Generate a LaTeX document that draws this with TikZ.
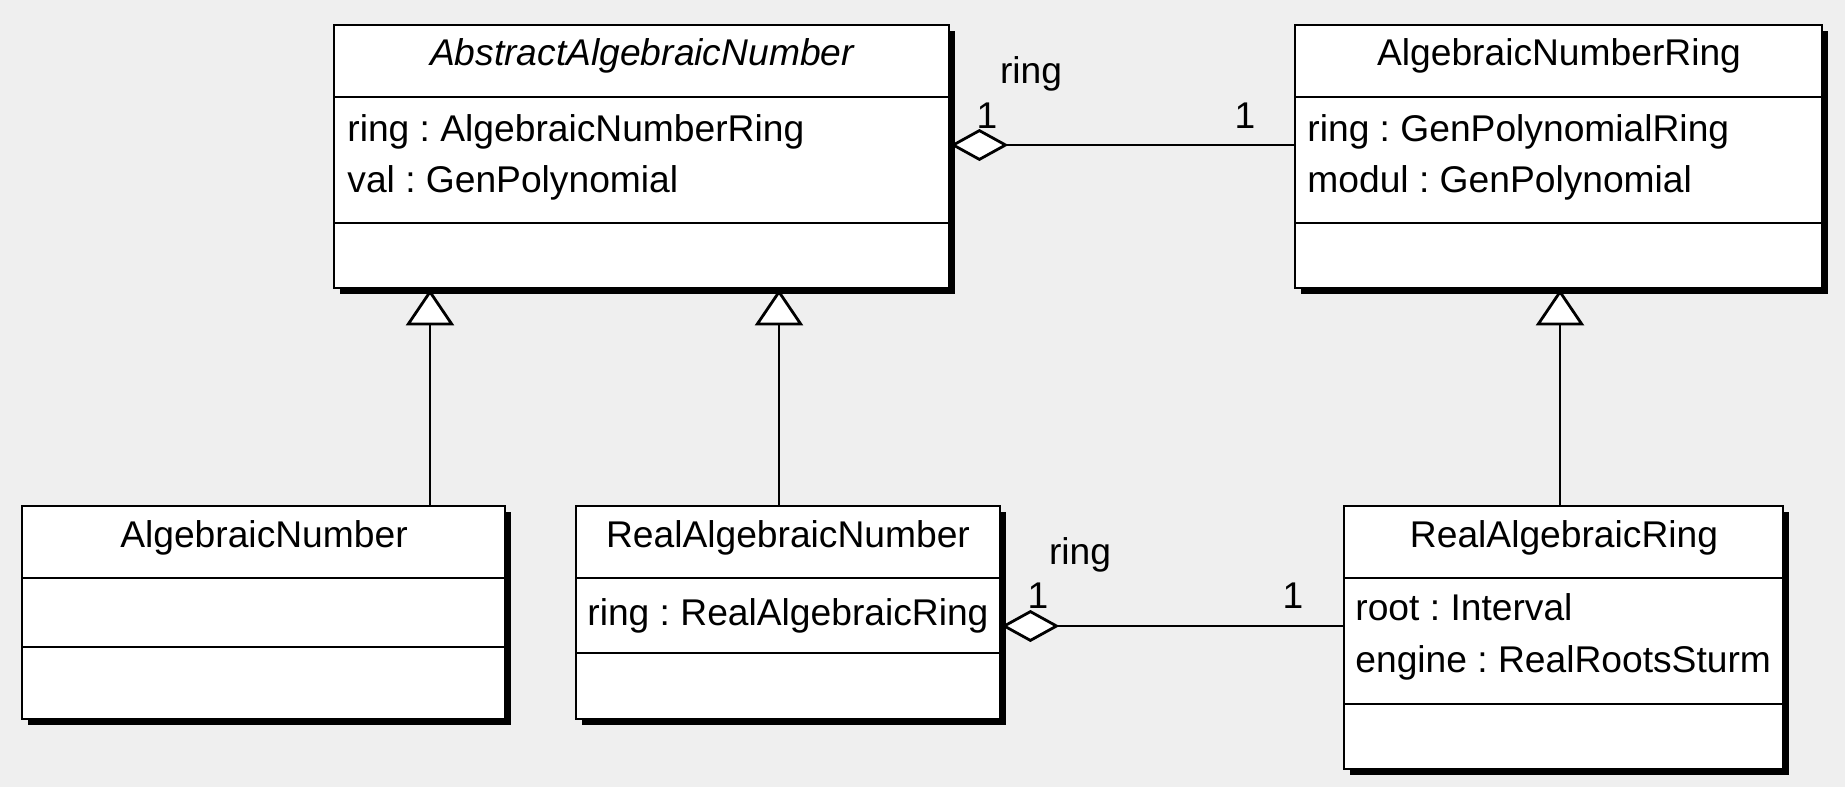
\documentclass[tikz,border=0pt]{standalone}
\usepackage{fontspec}
\setmainfont{Liberation Sans}
\usetikzlibrary{arrows.meta,fit,shadows}
\definecolor{umlbg}{HTML}{EFEFEF}
\tikzstyle{classbox}=[draw,fill=white,line width=1.4pt,inner sep=0pt,drop shadow={shadow xshift=3pt,shadow yshift=-3pt,fill=black,opacity=1}]
\tikzstyle{sep}=[line width=1.4pt]
\tikzstyle{classname}=[anchor=base,inner sep=0pt,font=\fontsize{18.6}{22}\selectfont]
\tikzstyle{member}=[anchor=base west,inner sep=0pt,font=\fontsize{18.6}{22}\selectfont]
\tikzstyle{assoctext}=[anchor=base,inner sep=0pt,font=\fontsize{18.6}{22}\selectfont]
\tikzstyle{inherit}=[line width=1.4pt,-{Triangle[width=24pt,length=18pt,fill=white]}]
\tikzstyle{aggr}=[line width=1.4pt,{Diamond[width=16pt,length=29pt,fill=white]}-]

\begin{document}
\frenchspacing
\begin{tikzpicture}[x=0.5pt,y=-0.5pt]
\fill[umlbg] (0,0) rectangle (1845,787);

% class boxes
\node[classbox,fit={(334,25) (949,288)}] (aan) {};
\node[classbox,fit={(1295,25) (1822,288)}] (anr) {};
\node[classbox,fit={(22,506) (505,719)}] (an) {};
\node[classbox,fit={(576,506) (1000,719)}] (ran) {};
\node[classbox,fit={(1344,506) (1783,769)}] (rar) {};

\draw[sep] (334,97) -- (949,97);
\draw[sep] (334,223) -- (949,223);
\draw[sep] (1295,97) -- (1822,97);
\draw[sep] (1295,223) -- (1822,223);
\draw[sep] (22,578) -- (505,578);
\draw[sep] (22,647) -- (505,647);
\draw[sep] (576,578) -- (1000,578);
\draw[sep] (576,653) -- (1000,653);
\draw[sep] (1344,578) -- (1783,578);
\draw[sep] (1344,704) -- (1783,704);

% names and attributes
\node[classname,font=\fontsize{18.6}{22}\selectfont\itshape] (aanname) at (642,65) {AbstractAlgebraicNumber};
\node[member] (aanring) at (347,141) {ring : AlgebraicNumberRing};
\node[member] (aanval) at (347,192) {val : GenPolynomial};

\node[classname] (anrname) at (1559,65) {AlgebraicNumberRing};
\node[member] (anrring) at (1307,141) {ring : GenPolynomialRing};
\node[member] (anrmodul) at (1307,192) {modul : GenPolynomial};

\node[classname] (anname) at (264,547) {AlgebraicNumber};

\node[classname] (ranname) at (788,547) {RealAlgebraicNumber};
\node[member] (ranring) at (587,625) {ring : RealAlgebraicRing};

\node[classname] (rarname) at (1564,547) {RealAlgebraicRing};
\node[member] (rarroot) at (1355,620) {root : Interval};
\node[member] (rarengine) at (1355,672) {engine : RealRootsSturm};

% generalizations
\draw[inherit] (an.north -| 430,0) -- (aan.south -| 430,0);
\draw[inherit] (ran.north -| 779,0) -- (aan.south -| 779,0);
\draw[inherit] (rar.north -| 1560,0) -- (anr.south -| 1560,0);

% aggregations
\draw[aggr] (aan.east |- 0,145) -- (anr.west |- 0,145);
\node[assoctext] (role1) at (1031,83) {ring};
\node[assoctext] (m1a) at (987,128) {1};
\node[assoctext] (m1b) at (1245,128) {1};

\draw[aggr] (ran.east |- 0,626) -- (rar.west |- 0,626);
\node[assoctext] (role2) at (1080,564) {ring};
\node[assoctext] (m2a) at (1038,608) {1};
\node[assoctext] (m2b) at (1293,608) {1};

\end{tikzpicture}
\end{document}
